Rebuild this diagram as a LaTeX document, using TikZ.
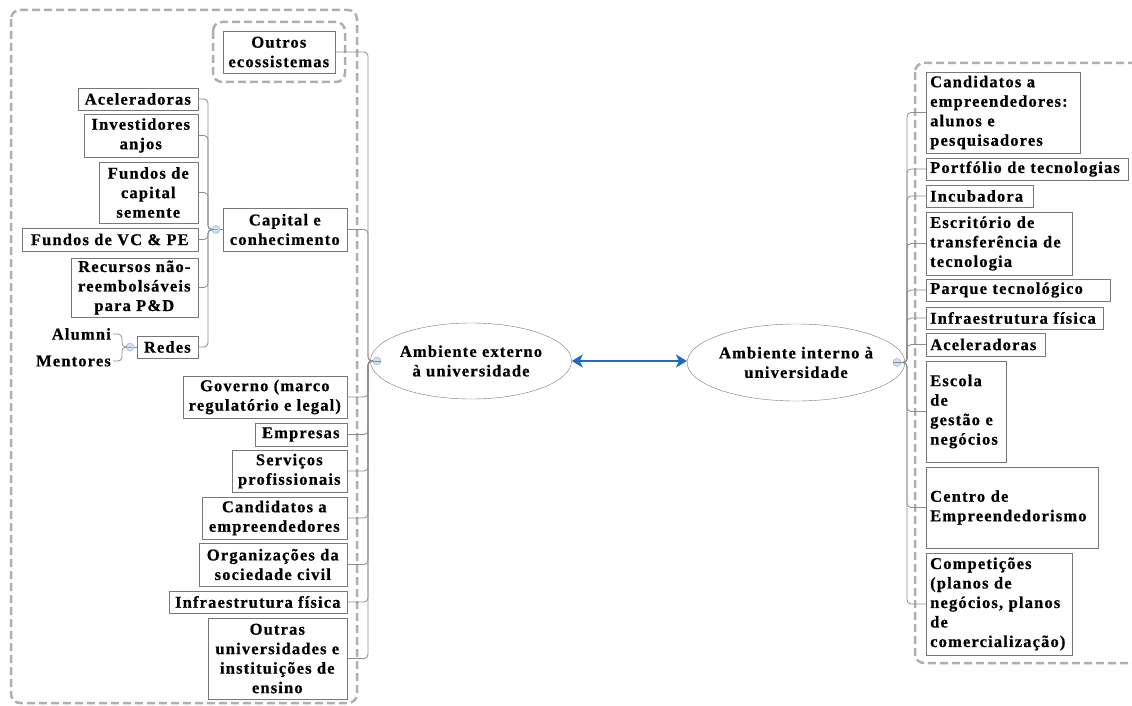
\documentclass[tikz,border=0pt]{standalone}
\usepackage{fontspec}
\setmainfont{Liberation Serif}[LetterSpace=7,BoldFeatures={FakeBold=0.6}]
\definecolor{cinza}{RGB}{120,120,120}
\definecolor{linha}{RGB}{140,140,140}
\definecolor{tracejado}{RGB}{175,175,175}
\definecolor{azul}{RGB}{30,105,195}
\definecolor{azulclaro}{RGB}{208,222,242}
\definecolor{azulborda}{RGB}{140,170,210}
\usepackage{tikz}
\usetikzlibrary{arrows.meta,shapes.geometric}

\begin{document}
\begin{tikzpicture}[x=1pt,y=-1pt,font=\bfseries\fontsize{16.5}{19.5}\selectfont,
	caixa/.style={draw=cinza,fill=white,thin,inner xsep=3pt,inner ysep=1pt,align=center},
	caixae/.style 2 args={caixa,anchor=east,minimum width=#1,minimum height=#2},
	caixad/.style 2 args={caixa,anchor=west,align=left,inner xsep=4pt,text width=#1,minimum height=#2},
	elipse/.style={ellipse,draw=cinza,fill=white,align=center,inner sep=0pt},
	rotulo/.style={anchor=east,inner sep=2pt},
	ponto/.style={circle,draw=azulborda,fill=azulclaro,minimum size=8pt,inner sep=0pt,
		path picture={\draw[azulborda] ([xshift=2pt]path picture bounding box.west) -- ([xshift=-2pt]path picture bounding box.east);}},
	ligacao/.style={draw=linha,line width=0.8pt,rounded corners=4pt},
	moldura/.style={draw=tracejado,line width=2.5pt,dash pattern=on 8pt off 4pt,rounded corners=9pt},
	seta/.style={azul,line width=2.5pt,arrows={Stealth[length=11pt,width=13pt,inset=3pt]-Stealth[length=11pt,width=13pt,inset=3pt]}}]
	\useasboundingbox (0,0) rectangle (1132,706);
	
	\draw[moldura] (11,10) rectangle (357,703);
	\draw[moldura] (213,22) rectangle (345,82);
	\draw[moldura] (915,63) rectangle (1150,663);
	
	% ambiente externo
	\node[elipse,minimum width=177pt,minimum height=76pt] (ext) at (471,361) {Ambiente externo\\à universidade};
	\node[ponto] (extdot) at (377,361) {};
	\coordinate (eixoext) at (368,361);
	
	\node[caixae={112pt}{42pt}] (outros) at (335,52) {Outros\\ecossistemas};
	\node[caixae={124pt}{43pt}] (capital) at (347,229.5) {Capital e\\conhecimento};
	\node[caixae={164pt}{42pt}] (governo) at (347,397) {Governo (marco\\regulatório e legal)};
	\node[caixae={92pt}{23pt}] (empresas) at (347,434.5) {Empresas};
	\node[caixae={115pt}{42pt}] (servicos) at (347,471) {Serviços\\profissionais};
	\node[caixae={145pt}{42pt}] (candext) at (347,518) {Candidatos a\\empreendedores};
	\node[caixae={148pt}{43pt}] (orgs) at (347,564.5) {Organizações da\\sociedade civil};
	\node[caixae={178pt}{22pt}] (infraext) at (347,602) {Infraestrutura física};
	\node[caixae={139pt}{81pt}] (outras) at (347,658.5) {Outras\\universidades e\\instituições de\\ensino};
	
	\node[ponto] (capdot) at (216,229.5) {};
	\coordinate (eixocap) at (208,229.5);
	\node[caixae={120pt}{22pt}] (acel) at (198,99) {Aceleradoras};
	\node[caixae={114pt}{43pt}] (anjos) at (198,135.5) {Investidores\\anjos};
	\node[caixae={99pt}{61pt}] (semente) at (198,192.5) {Fundos de\\capital\\semente};
	\node[caixae={176pt}{23pt}] (vcpe) at (198,239.5) {Fundos de VC \& PE};
	\node[caixae={127pt}{59pt}] (recursos) at (198,287.5) {Recursos não-\\reembolsáveis\\para P\&D};
	\node[caixae={61pt}{22pt}] (redes) at (198,347) {Redes};
	
	\node[ponto] (redesdot) at (130,347) {};
	\coordinate (eixoredes) at (122,347);
	\node[rotulo] (alumni) at (113,334) {Alumni};
	\node[rotulo] (mentores) at (113,361) {Mentores};
	
	% ambiente interno
	\node[elipse,minimum width=188pt,minimum height=77pt] (int) at (796,362.5) {Ambiente interno à\\universidade};
	\node[ponto] (intdot) at (897,362.5) {};
	\coordinate (eixoint) at (907,362.5);
	
	\node[caixad={146pt}{81pt}] (candint) at (926,112.5) {Candidatos a\\empreendedores:\\alunos e\\pesquisadores};
	\node[caixad={194pt}{22pt}] (portfolio) at (926,169) {Portfólio de tecnologias};
	\node[caixad={99pt}{22pt}] (incub) at (926,196) {Incubadora};
	\node[caixad={138pt}{63pt}] (escritorio) at (926,243.5) {Escritório de\\transferência de\\tecnologia};
	\node[caixad={176pt}{22pt}] (parque) at (926,290) {Parque tecnológico};
	\node[caixad={169pt}{22pt}] (infraint) at (926,318) {Infraestrutura física};
	\node[caixad={111pt}{23pt}] (acelint) at (926,344.5) {Aceleradoras};
	\node[caixad={72pt}{101pt}] (escola) at (926,411.5) {Escola\\de\\gestão e\\negócios};
	\node[caixad={164pt}{81pt}] (centro) at (926,507.5) {Centro de\\Empreendedorismo};
	\node[caixad={138pt}{102pt}] (compet) at (926,604) {Competições\\(planos de\\negócios, planos\\de\\comercialização)};
	
	\draw[seta] (ext.east) -- (ext.east -| int.west);
	
	\draw[ligacao] (extdot.east) -- (ext.west);
	\draw[ligacao] (extdot.west) -- (eixoext) |- (outros.east);
	\draw[ligacao] (extdot.west) -- (eixoext) |- (capital.east);
	\draw[ligacao] (extdot.west) -- (eixoext) |- (governo.east);
	\draw[ligacao] (extdot.west) -- (eixoext) |- (empresas.east);
	\draw[ligacao] (extdot.west) -- (eixoext) |- (servicos.east);
	\draw[ligacao] (extdot.west) -- (eixoext) |- (candext.east);
	\draw[ligacao] (extdot.west) -- (eixoext) |- (orgs.east);
	\draw[ligacao] (extdot.west) -- (eixoext) |- (infraext.east);
	\draw[ligacao] (extdot.west) -- (eixoext) |- (outras.east);
	
	\draw[ligacao] (capdot.east) -- (capital.west);
	\draw[ligacao] (capdot.west) -- (eixocap) |- (acel.east);
	\draw[ligacao] (capdot.west) -- (eixocap) |- (anjos.east);
	\draw[ligacao] (capdot.west) -- (eixocap) |- (semente.east);
	\draw[ligacao] (capdot.west) -- (eixocap) |- (vcpe.east);
	\draw[ligacao] (capdot.west) -- (eixocap) |- (recursos.east);
	\draw[ligacao] (capdot.west) -- (eixocap) |- (redes.east);
	
	\draw[ligacao] (redesdot.east) -- (redes.west);
	\draw[ligacao] (redesdot.west) -- (eixoredes) |- (alumni.east);
	\draw[ligacao] (redesdot.west) -- (eixoredes) |- (mentores.east);
	
	\draw[ligacao] (intdot.west) -- (int.east);
	\draw[ligacao] (intdot.east) -- (eixoint) |- (candint.west);
	\draw[ligacao] (intdot.east) -- (eixoint) |- (portfolio.west);
	\draw[ligacao] (intdot.east) -- (eixoint) |- (incub.west);
	\draw[ligacao] (intdot.east) -- (eixoint) |- (escritorio.west);
	\draw[ligacao] (intdot.east) -- (eixoint) |- (parque.west);
	\draw[ligacao] (intdot.east) -- (eixoint) |- (infraint.west);
	\draw[ligacao] (intdot.east) -- (eixoint) |- (acelint.west);
	\draw[ligacao] (intdot.east) -- (eixoint) |- (escola.west);
	\draw[ligacao] (intdot.east) -- (eixoint) |- (centro.west);
	\draw[ligacao] (intdot.east) -- (eixoint) |- (compet.west);
\end{tikzpicture}
\end{document}
